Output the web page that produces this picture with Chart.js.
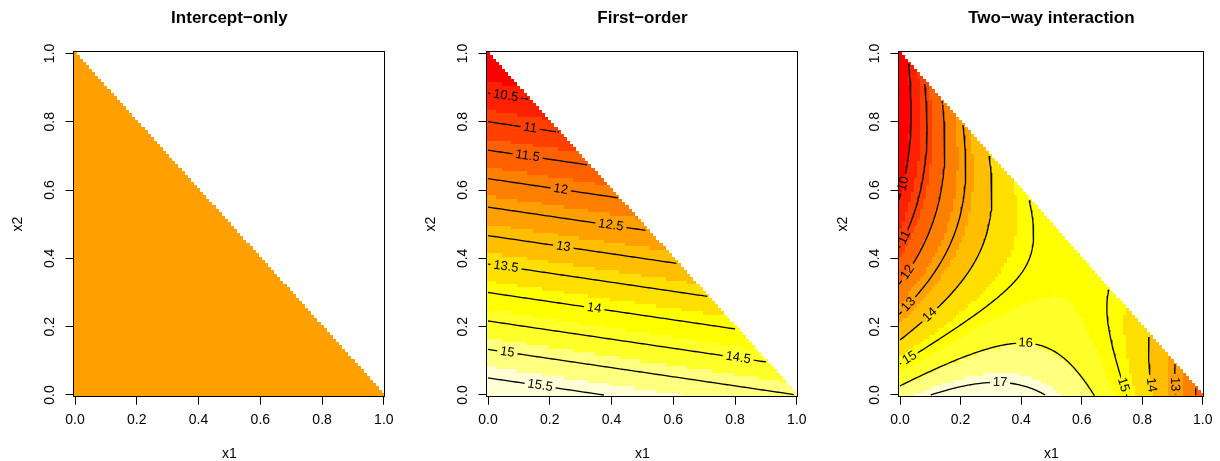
<!DOCTYPE html>
<html><head><meta charset="utf-8">
<script src="https://cdn.jsdelivr.net/npm/chart.js@4/dist/chart.umd.min.js"></script>
<style>
html,body{margin:0;padding:0;background:#fff;overflow:hidden;width:1220px;height:461px;}
canvas{position:absolute;top:0;}
</style></head><body>
<canvas id="c0" width="412" height="461" style="left:0px"></canvas>
<canvas id="c1" width="412" height="461" style="left:413px"></canvas>
<canvas id="c2" width="395" height="461" style="left:825px"></canvas>
<script>
// ---------------- data ----------------
const panelTitles = ['Intercept\u2212only', 'First\u2212order', 'Two\u2212way interaction'];
const axisTicks = [0, 0.2, 0.4, 0.6, 0.8, 1.0];
const gridN = 100;                                   // grid steps per unit on x1 and x2
const interceptCoef = [14.0];                        // constant model
const firstOrderCoef = [15.0, 9.8, 15.8];            // x1, x2, x3
const interactionCoef = [11.62, 9.42, 16.44, 19.0, 11.5, -9.7]; // x1, x2, x3, x1x2, x1x3, x2x3
const firstOrderLevels = [10.5, 11, 11.5, 12, 12.5, 13, 13.5, 14, 14.5, 15, 15.5];
const interactionLevels = [10, 11, 12, 13, 14, 15, 16, 17];
const heatColors = ['#FF0000', '#FF2000', '#FF4000', '#FF6000', '#FF8000', '#FF9F00',
                    '#FFBF00', '#FFDF00', '#FFFF00', '#FFFF2A', '#FFFF80', '#FFFFD5'];

// ---------------- style / layout ----------------
const FONT = "'Liberation Sans', Arial, Helvetica, sans-serif";
const BOX = {left: 73.5, top: 51.7, right: 385.4, bottom: 396.7};
const H = 461;
const halfCell = 0.5 / gridN;
const pxX = (BOX.right - BOX.left) / (1 + 2 * halfCell);
const pxY = (BOX.bottom - BOX.top) / (1 + 2 * halfCell);
const LABEL_FONT = "13px " + FONT;
const LINE_W = 1.3;
// where along each contour path (0..1) the label sits; paths of a level taken longest first
const firstOrderLabelAt = {'10.5': [0.44], '11': [0.62], '11.5': [0.4], '12': [0.56], '12.5': [0.78],
  '13': [0.40], '13.5': [0.083], '14': [0.43], '14.5': [0.9], '15': [0.063], '15.5': [0.45]};
const interactionLabelAt = {'10': [0.9], '11': [0.94], '12': [0.93], '13': [0.94, 0.65],
  '14': [0.82, 0.88], '15': [0.95, 0.9], '16': [0.6], '17': [0.6]};

Chart.defaults.font.family = FONT;
Chart.defaults.color = '#000';

function mixtureValue(coef, x1, x2) {
  const x3 = 1 - x1 - x2;
  if (coef.length === 1) return coef[0];
  let v = coef[0] * x1 + coef[1] * x2 + coef[2] * x3;
  if (coef.length === 6) v += coef[3] * x1 * x2 + coef[4] * x1 * x3 + coef[5] * x2 * x3;
  return v;
}

function buildGrid(coef) {
  const z = [];
  let zmin = Infinity, zmax = -Infinity;
  for (let i = 0; i <= gridN; i++) {
    z.push([]);
    for (let j = 0; j <= gridN; j++) {
      if (i + j <= gridN) {
        const v = mixtureValue(coef, i / gridN, j / gridN);
        z[i].push(v);
        if (v < zmin) zmin = v;
        if (v > zmax) zmax = v;
      } else z[i].push(NaN);
    }
  }
  // R image() colour assignment
  let lo = zmin, hi = zmax;
  if (hi - lo === 0) { lo = zmin - 0.4 * Math.abs(zmin); hi = zmin + 0.4 * Math.abs(zmin); }
  const nc = heatColors.length;
  const col = z.map(row => row.map(v => {
    if (isNaN(v)) return null;
    const t = (v - lo) / (hi - lo);
    let k = Math.floor((nc - 1e-5) * t + 1e-7);
    k = Math.max(0, Math.min(nc - 1, k));
    return heatColors[k];
  }));
  return {z, col};
}

function contourPaths(z, level) {
  const N = gridN, segs = [];
  for (let i = 0; i < N; i++) for (let j = 0; j < N; j++) {
    if (i + j + 2 > N) continue;
    const a = z[i][j], b = z[i + 1][j], c = z[i + 1][j + 1], d = z[i][j + 1];
    const E = [
      ['h', i, j, a, b, i / N, j / N, (i + 1) / N, j / N],
      ['v', i + 1, j, b, c, (i + 1) / N, j / N, (i + 1) / N, (j + 1) / N],
      ['h', i, j + 1, d, c, i / N, (j + 1) / N, (i + 1) / N, (j + 1) / N],
      ['v', i, j, a, d, i / N, j / N, i / N, (j + 1) / N]
    ];
    const cross = [];
    for (let k = 0; k < 4; k++) {
      const [t, ii, jj, za, zb, xa, ya, xb, yb] = E[k];
      if ((za >= level) !== (zb >= level)) {
        const f = (level - za) / (zb - za);
        cross.push({k, key: t + ii + '_' + jj, x: xa + f * (xb - xa), y: ya + f * (yb - ya)});
      }
    }
    if (cross.length === 2) segs.push([cross[0], cross[1]]);
    else if (cross.length === 4) {
      const center = (a + b + c + d) / 4;
      if ((center >= level) === (a >= level)) { segs.push([cross[0], cross[1]]); segs.push([cross[2], cross[3]]); }
      else { segs.push([cross[0], cross[3]]); segs.push([cross[1], cross[2]]); }
    }
  }
  const byKey = new Map();
  segs.forEach((s, idx) => s.forEach(p => { if (!byKey.has(p.key)) byKey.set(p.key, []); byKey.get(p.key).push(idx); }));
  const used = new Array(segs.length).fill(false);
  function trace(si, entry) {
    const pts = [segs[si][entry]];
    let cur = si;
    while (true) {
      used[cur] = true;
      const exit = segs[cur][1 - entry];
      pts.push(exit);
      const nb = byKey.get(exit.key).filter(n => !used[n]);
      if (!nb.length) break;
      cur = nb[0];
      entry = segs[cur][0].key === exit.key ? 0 : 1;
    }
    return pts;
  }
  const paths = [];
  for (let s = 0; s < segs.length; s++) {
    if (used[s]) continue;
    if (byKey.get(segs[s][0].key).length === 1) paths.push(trace(s, 0));
    else if (byKey.get(segs[s][1].key).length === 1) paths.push(trace(s, 1));
  }
  for (let s = 0; s < segs.length; s++) if (!used[s]) paths.push(trace(s, 0));
  return paths.map(p => {
    const q = p.map(o => ({x: o.x, y: o.y}));
    const f = q[0], l = q[q.length - 1];
    if ((l.x - l.y) < (f.x - f.y)) q.reverse();
    return q;
  });
}

function pathLengths(pts) {
  const L = [0];
  for (let k = 1; k < pts.length; k++)
    L.push(L[k - 1] + Math.hypot((pts[k].x - pts[k - 1].x) * pxX, (pts[k].y - pts[k - 1].y) * pxY));
  return L;
}

const measureCtx = document.createElement('canvas').getContext('2d');
measureCtx.font = LABEL_FONT;

function splitForLabel(pts, frac, text) {
  const L = pathLengths(pts);
  const total = L[L.length - 1];
  const gap = measureCtx.measureText(text).width + 6;
  if (frac === null || frac === undefined || total < gap + 6) return {parts: [pts], label: null};
  let s = frac * total;
  s = Math.max(gap / 2, Math.min(total - gap / 2, s));
  const at = d => {
    for (let k = 1; k < pts.length; k++) {
      if (L[k] >= d) {
        const t = (L[k] - L[k - 1]) > 0 ? (d - L[k - 1]) / (L[k] - L[k - 1]) : 0;
        return {x: pts[k - 1].x + t * (pts[k].x - pts[k - 1].x), y: pts[k - 1].y + t * (pts[k].y - pts[k - 1].y)};
      }
    }
    return pts[pts.length - 1];
  };
  const s0 = s - gap / 2, s1 = s + gap / 2;
  const A = [], B = [];
  for (let k = 0; k < pts.length; k++) { if (L[k] < s0) A.push(pts[k]); }
  A.push(at(s0));
  B.push(at(s1));
  for (let k = 0; k < pts.length; k++) { if (L[k] > s1) B.push(pts[k]); }
  return {parts: [A, B], label: {pos: at(s), p0: at(s0), p1: at(s1), text}};
}

function buildContours(z, levels, labelAt) {
  const lines = [], labels = [];
  levels.forEach(lv => {
    const text = String(lv);
    const paths = contourPaths(z, lv).filter(p => p.length >= 2);
    const lens = paths.map(p => { const L = pathLengths(p); return L[L.length - 1]; });
    const order = paths.map((p, i) => i).sort((a, b) => lens[b] - lens[a]);
    const fr = labelAt[text] || [];
    order.forEach((pi, rank) => {
      const r = splitForLabel(paths[pi], fr[rank] === undefined ? null : fr[rank], text);
      r.parts.forEach(part => { if (part.length >= 2) lines.push(part); });
      if (r.label) labels.push(r.label);
    });
  });
  return {lines, labels};
}

// ---------------- plugins ----------------
const heatPlugin = {
  id: 'heat',
  beforeDatasetsDraw(chart) {
    const g = chart.$heat; if (!g) return;
    const {ctx, chartArea, scales: {x, y}} = chart;
    ctx.save();
    ctx.beginPath();
    ctx.rect(chartArea.left, chartArea.top, chartArea.right - chartArea.left, chartArea.bottom - chartArea.top);
    ctx.clip();
    const xe = [], ye = [];
    for (let k = 0; k <= gridN + 1; k++) {
      xe.push(Math.round(x.getPixelForValue(k / gridN - halfCell)));
      ye.push(Math.round(y.getPixelForValue(k / gridN - halfCell)));
    }
    for (let i = 0; i <= gridN; i++) for (let j = 0; j <= gridN; j++) {
      const c = g.col[i][j]; if (!c) continue;
      ctx.fillStyle = c;
      ctx.fillRect(xe[i], ye[j + 1], xe[i + 1] - xe[i], ye[j] - ye[j + 1]);
    }
    ctx.restore();
  }
};
const labelPlugin = {
  id: 'clabels',
  afterDatasetsDraw(chart) {
    const labs = chart.$labels; if (!labs) return;
    const {ctx, scales: {x, y}} = chart;
    ctx.save();
    ctx.font = LABEL_FONT;
    ctx.fillStyle = '#000';
    ctx.textAlign = 'center';
    ctx.textBaseline = 'middle';
    labs.forEach(l => {
      const px = x.getPixelForValue(l.pos.x), py = y.getPixelForValue(l.pos.y);
      let ang = Math.atan2(y.getPixelForValue(l.p1.y) - y.getPixelForValue(l.p0.y),
                           x.getPixelForValue(l.p1.x) - x.getPixelForValue(l.p0.x));
      if (ang > Math.PI / 2) ang -= Math.PI;
      if (ang <= -Math.PI / 2) ang += Math.PI;
      ctx.save();
      ctx.translate(px, py);
      ctx.rotate(ang);
      ctx.fillText(l.text, 0, 0);
      ctx.restore();
    });
    ctx.restore();
  }
};
const boxPlugin = {
  id: 'box',
  afterDraw(chart) {
    const {ctx, chartArea: a} = chart;
    ctx.save();
    ctx.strokeStyle = '#000';
    ctx.lineWidth = 1;
    const l = Math.round(a.left) - 0.5, t = Math.round(a.top) - 0.5;
    const r = Math.round(a.right) - 0.5, b = Math.round(a.bottom) - 0.5;
    ctx.strokeRect(l, t, r - l, b - t);
    ctx.restore();
  }
};

function axisCfg(isY, titleText) {
  return {
    type: 'linear',
    min: -halfCell, max: 1 + halfCell,
    afterBuildTicks: s => { s.ticks = axisTicks.map(v => ({value: v})); },
    afterFit: s => { if (isY) s.width = BOX.left; else s.height = H - BOX.bottom; },
    grid: {display: true, drawOnChartArea: false, drawTicks: true, tickLength: 8,
           color: '#000', tickColor: '#000', lineWidth: 1},
    border: {display: false},
    ticks: isY
      ? {font: {size: 14, family: FONT}, color: '#000', padding: 5.8, minRotation: 90, maxRotation: 90,
         crossAlign: 'center', autoSkip: false, callback: v => Number(v).toFixed(1)}
      : {font: {size: 14, family: FONT}, color: '#000', padding: 7.4, minRotation: 0, maxRotation: 0,
         autoSkip: false, callback: v => Number(v).toFixed(1)},
    title: {display: true, text: titleText, color: '#000', font: {size: 14, family: FONT, lineHeight: 1},
            padding: isY ? {top: 11, bottom: 0} : {top: 0, bottom: 0}}
  };
}

function makePanel(canvasId, title, coef, levels, labelAt) {
  const cv = document.getElementById(canvasId);
  const grid = buildGrid(coef);
  const cont = levels ? buildContours(grid.z, levels, labelAt) : {lines: [], labels: []};
  const datasets = cont.lines.map(pts => ({
    data: pts, showLine: true, borderColor: '#000', borderWidth: LINE_W, pointRadius: 0,
    pointHoverRadius: 0, fill: false, tension: 0
  }));
  const chart = new Chart(cv, {
    type: 'scatter',
    data: {datasets},
    options: {
      responsive: false, animation: false, devicePixelRatio: 1, events: [],
      layout: {padding: {left: 0, top: 0, right: cv.width - BOX.right, bottom: 0}},
      plugins: {
        legend: {display: false}, tooltip: {enabled: false},
        title: {display: true, text: title, fullSize: false, color: '#000',
                font: {family: FONT, size: 17, weight: 'bold', lineHeight: 1.2},
                padding: {top: 7.8, bottom: 23.5}}
      },
      scales: {x: axisCfg(false, 'x1'), y: axisCfg(true, 'x2')}
    },
    plugins: [heatPlugin, labelPlugin, boxPlugin]
  });
  chart.$heat = grid;
  chart.$labels = cont.labels;
  chart.draw();
  return chart;
}

makePanel('c0', panelTitles[0], interceptCoef, null, {});
makePanel('c1', panelTitles[1], firstOrderCoef, firstOrderLevels, firstOrderLabelAt);
makePanel('c2', panelTitles[2], interactionCoef, interactionLevels, interactionLabelAt);
</script>
</body></html>
